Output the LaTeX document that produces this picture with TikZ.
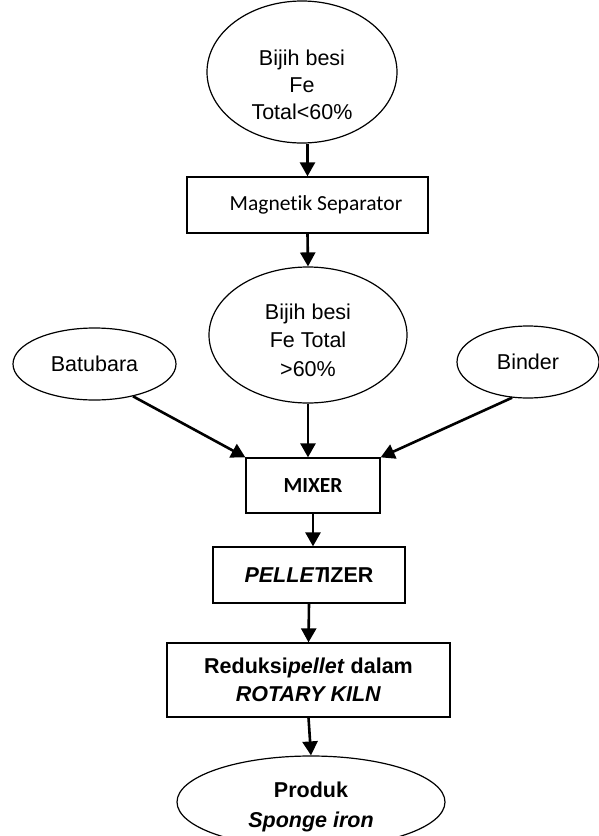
\documentclass[tikz,border=0pt]{standalone}
\usepackage{fontspec}
\setmainfont{Liberation Sans}
\newfontfamily\calibri[Ligatures=NoCommon]{Carlito}
\usetikzlibrary{shapes.geometric, arrows.meta}

\begin{document}
\begin{tikzpicture}[x = 1pt, y = -1pt,
  oval/.style = {draw, ellipse, line width = 1.2pt, inner sep = 0pt, align = center},
  box/.style = {draw, rectangle, line width = 1.3pt, inner sep = 0pt, align = center},
  flow/.style = {-{Triangle[width = 15pt, length = 14pt]}, line width = 2.6pt}]
\useasboundingbox (0, 0) rectangle (599, 836);

\node[oval, minimum width = 190pt, minimum height = 142pt, font = \fontsize{21.5}{27}\selectfont] (ore) at (302, 72) {\rule{0pt}{41pt}Bijih besi\\Fe\\Total<60\%};

\node[box, minimum width = 241pt, minimum height = 56pt, font = \calibri\fontsize{21.5}{27}\selectfont] (magnet) at (307.5, 205) {\hspace*{17pt}Magnetik Separator};

\node[oval, minimum width = 198pt, minimum height = 136pt, font = \fontsize{21.5}{28.5}\selectfont] (rich) at (308, 335) {\rule{0pt}{26pt}Bijih besi\\Fe Total\\>60\%};

\node[oval, minimum width = 163pt, minimum height = 72pt, font = \fontsize{21.5}{27}\selectfont] (coal) at (94.5, 364) {Batubara};
\node[oval, minimum width = 142pt, minimum height = 72pt, font = \fontsize{21.5}{27}\selectfont] (binder) at (528, 362) {Binder};

\node[box, minimum width = 134pt, minimum height = 55pt, font = \calibri\bfseries\fontsize{21.5}{27}\selectfont] (mixer) at (313, 485.5) {MIXER};

\node[box, minimum width = 192pt, minimum height = 56pt, font = \bfseries\fontsize{21.5}{27}\selectfont] (pellet) at (309, 575) {\textit{PELLET}\kern-4pt IZER};

\node[box, minimum width = 283pt, minimum height = 74pt, font = \bfseries\fontsize{21.5}{28}\selectfont] (kiln) at (308.5, 680) {Reduksi\textit{pellet} dalam\\\textit{ROTARY KILN}};

\node[oval, minimum width = 268pt, minimum height = 92pt, font = \bfseries\fontsize{21.5}{30}\selectfont] (sponge) at (311, 802) {\rule{0pt}{26pt}Produk\\\textit{Sponge iron}};

\draw[flow] (ore.south -| magnet.north) -- (magnet.north);
\draw[flow] (magnet.south) -- (rich.north);

\draw[flow] (coal.-40) -- (mixer.north west);
\draw[flow] (rich.south) -- (rich.south |- mixer.north);
\draw[flow] (binder.-114) -- (mixer.north east);

\draw[flow] (mixer.south) -- (mixer.south |- pellet.north);
\draw[flow] (pellet.south) -- (kiln.north);
\draw[flow] (kiln.south) -- (sponge.north);

\end{tikzpicture}
\end{document}
